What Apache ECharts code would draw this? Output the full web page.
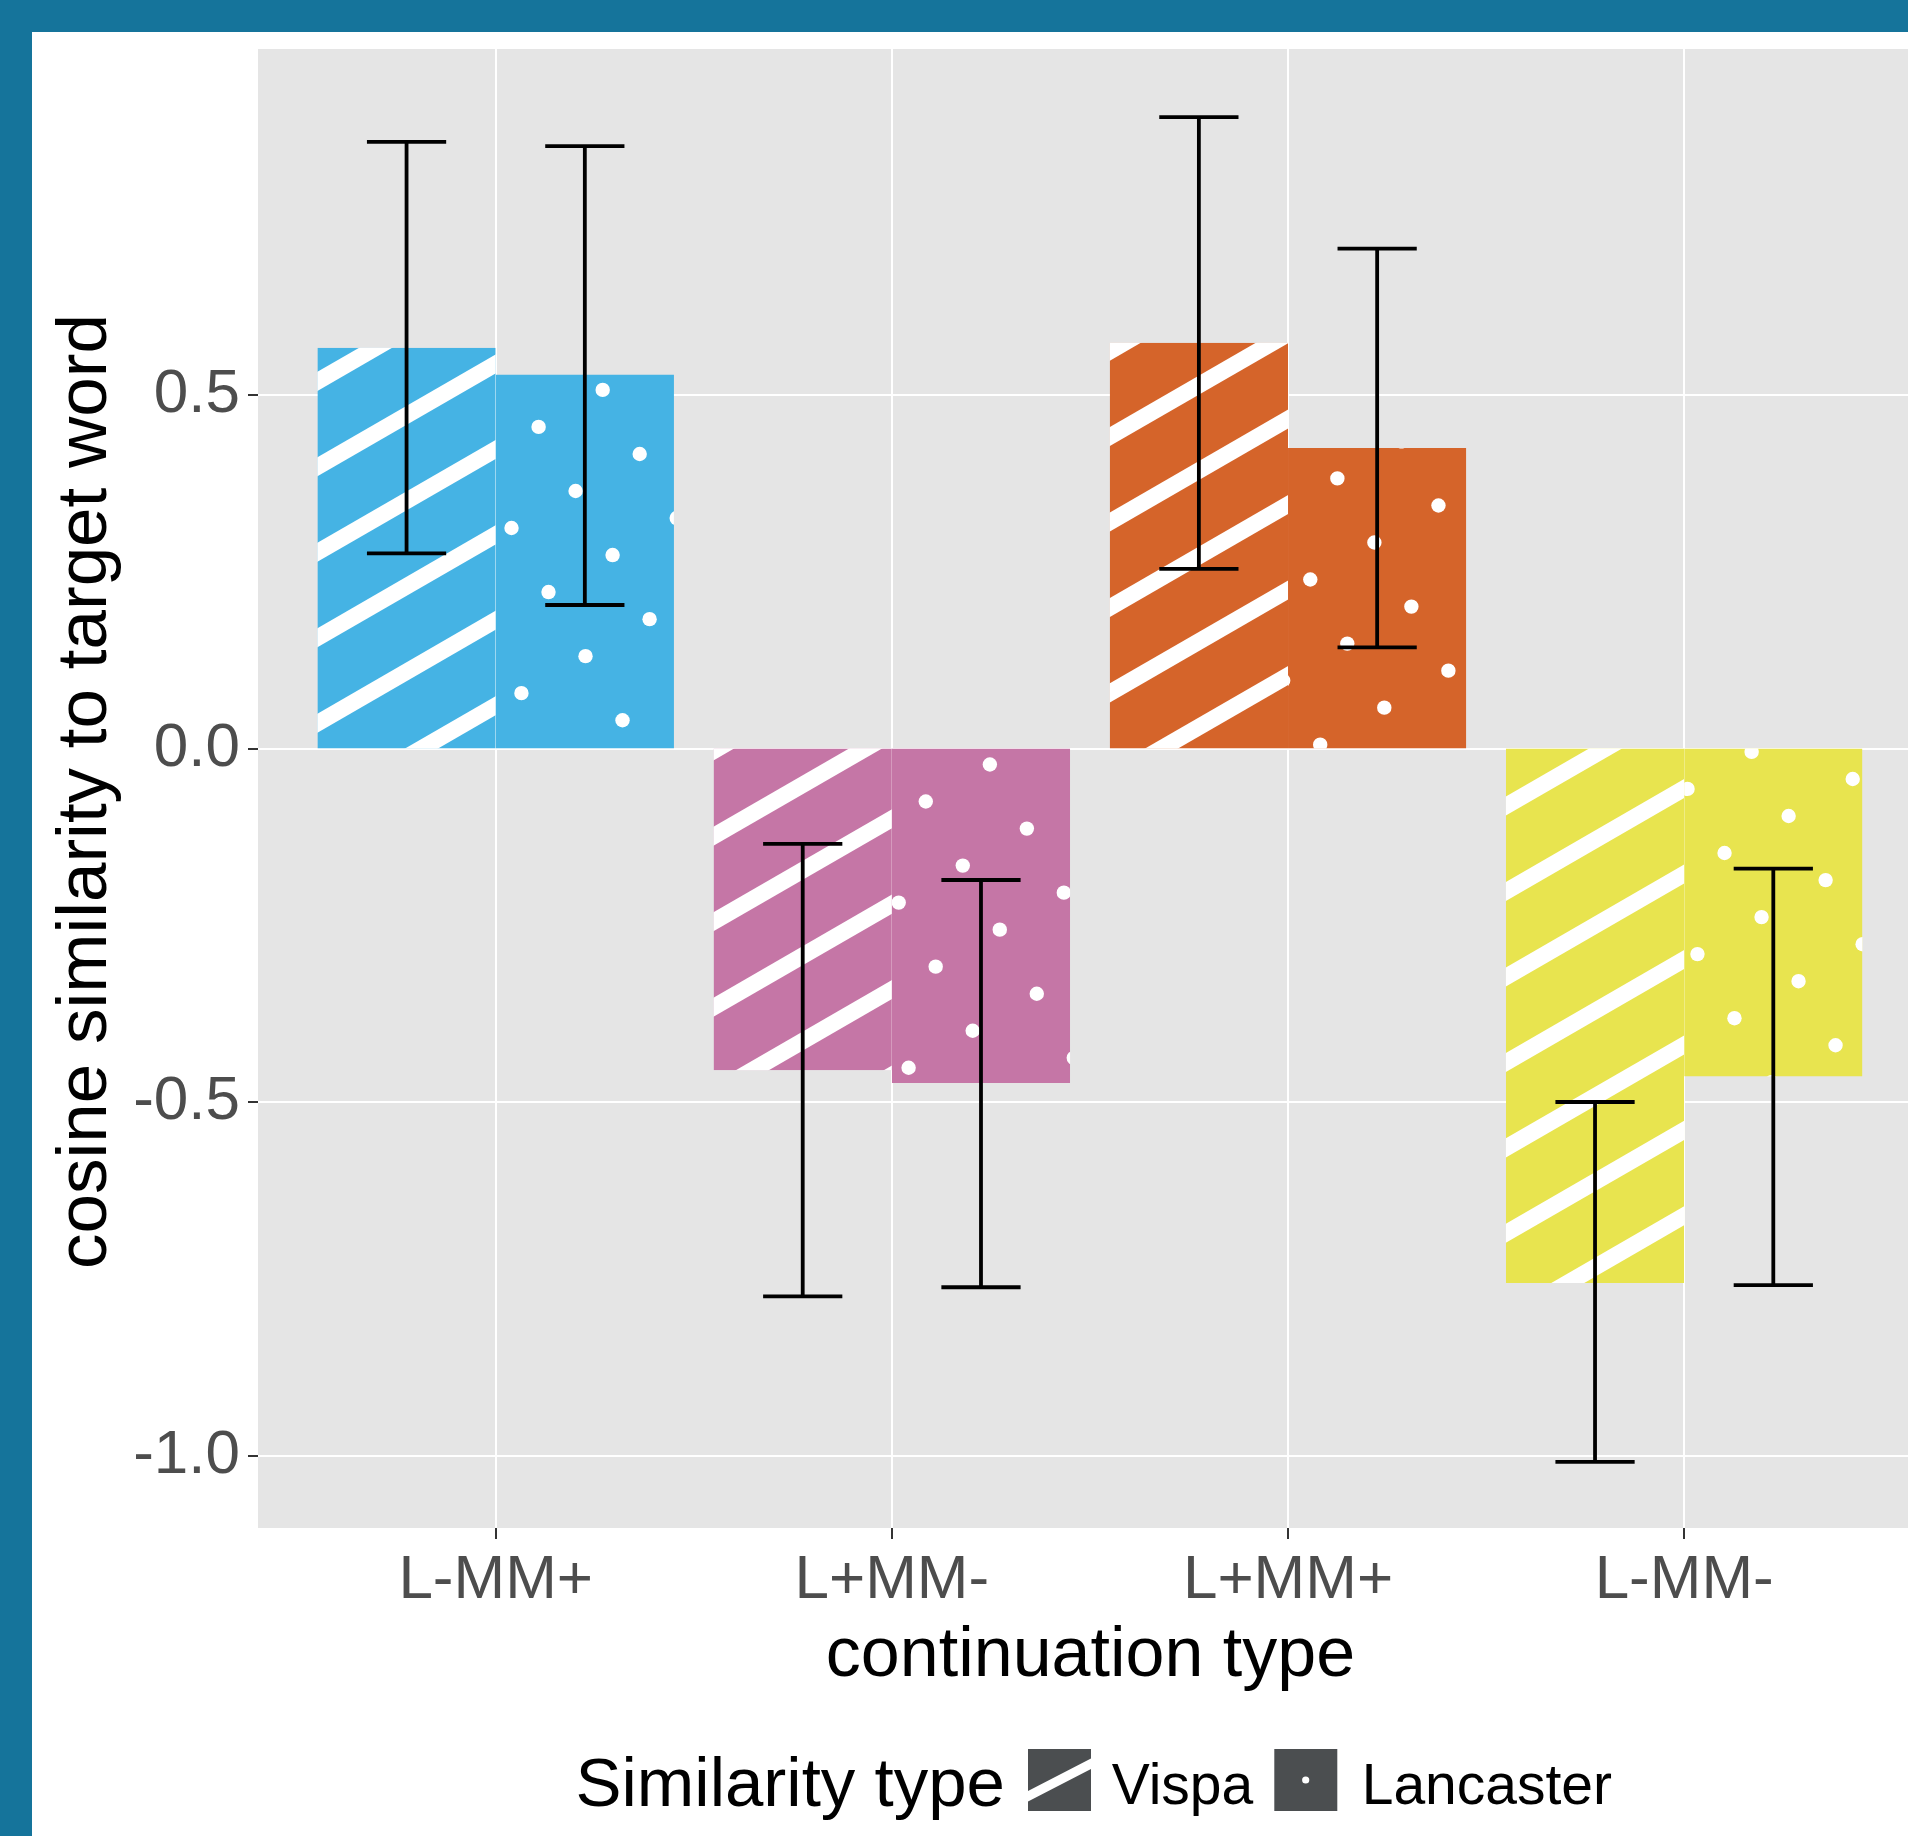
<!DOCTYPE html>
<html>
<head>
<meta charset="utf-8">
<script src="https://cdn.jsdelivr.net/npm/echarts@6/dist/echarts.min.js"></script>
<style>
  html, body { margin: 0; padding: 0; overflow: hidden; background: #15749b; }
  #main { position: absolute; left: 32px; top: 32px; width: 1876px; height: 1804px; background: #fff; }
</style>
</head>
<body>
<div id="main"></div>
<script>
// data
const categories = ["L-MM+", "L+MM-", "L+MM+", "L-MM-"];
const simTypes = ["Vispa", "Lancaster"];
const vispaMean = [0.567, -0.455, 0.574, -0.756];
const vispaLow = [0.276, -0.775, 0.254, -1.009];
const vispaHigh = [0.858, -0.135, 0.893, -0.500];
const lancMean = [0.529, -0.473, 0.425, -0.464];
const lancLow = [0.203, -0.762, 0.143, -0.759];
const lancHigh = [0.852, -0.186, 0.707, -0.170];
const yTicks = [-1.0, -0.5, 0.0, 0.5];
const xTicks = [1, 2, 3, 4];

const barColors = ["#45b3e4", "#c576a6", "#d5642a", "#e8e44f"];
const FONT = "Liberation Sans, Arial, Helvetica, sans-serif";
const PAD = 32; // teal frame, the chart div starts here

// bar / errorbar geometry in axis units
const BAR_W = 0.45;
const ERR_W = 0.2;

// pattern: 30 degree stripes and dots on a rotated lattice
const ANG = Math.PI / 6;
const C = Math.cos(ANG), S = Math.sin(ANG);
const SP = 74;
const STRIPE_W = 16.5;
const DOT_R = 7.2;
const stripeB = 45 - (PAD * S + PAD * C);
const dotA = 31 - (PAD * C - PAD * S);
const dotB = 47 - (PAD * S + PAD * C);

const barData = [];
categories.forEach(function (c, i) {
  barData.push([i + 1, 0, vispaMean[i], vispaLow[i], vispaHigh[i]]);
  barData.push([i + 1, 1, lancMean[i], lancLow[i], lancHigh[i]]);
});

function stripes(r) {
  const out = [];
  const bMin = r.x * S + r.y * C;
  const bMax = (r.x + r.width) * S + (r.y + r.height) * C;
  const sMin = r.x * C - (r.y + r.height) * S - 30;
  const sMax = (r.x + r.width) * C - r.y * S + 30;
  const k0 = Math.floor((bMin - stripeB) / SP) - 1;
  const k1 = Math.ceil((bMax - stripeB) / SP) + 1;
  for (let k = k0; k <= k1; k++) {
    const b = stripeB + k * SP;
    out.push({
      type: "line",
      shape: {
        x1: b * S + sMin * C, y1: b * C - sMin * S,
        x2: b * S + sMax * C, y2: b * C - sMax * S
      },
      style: { stroke: "#fff", lineWidth: STRIPE_W }
    });
  }
  return out;
}

function dots(r) {
  const out = [];
  const aMin = r.x * C - (r.y + r.height) * S;
  const aMax = (r.x + r.width) * C - r.y * S;
  const bMin = r.x * S + r.y * C;
  const bMax = (r.x + r.width) * S + (r.y + r.height) * C;
  for (let i = Math.floor((aMin - dotA) / SP) - 1; i <= Math.ceil((aMax - dotA) / SP) + 1; i++) {
    for (let j = Math.floor((bMin - dotB) / SP) - 1; j <= Math.ceil((bMax - dotB) / SP) + 1; j++) {
      const a = dotA + i * SP, b = dotB + j * SP;
      const px = a * C + b * S, py = -a * S + b * C;
      if (px < r.x - DOT_R || px > r.x + r.width + DOT_R) continue;
      if (py < r.y - DOT_R || py > r.y + r.height + DOT_R) continue;
      out.push({ type: "circle", shape: { cx: px, cy: py, r: DOT_R }, style: { fill: "#fff" } });
    }
  }
  return out;
}

function renderBar(params, api) {
  const cat = api.value(0), kind = api.value(1), mean = api.value(2);
  const left = kind === 0 ? cat - BAR_W : cat;
  const p0 = api.coord([left, 0]);
  const p1 = api.coord([left + BAR_W, mean]);
  const shape = {
    x: p0[0], y: Math.min(p0[1], p1[1]),
    width: p1[0] - p0[0], height: Math.abs(p1[1] - p0[1])
  };
  const kids = [{ type: "rect", shape: shape, style: { fill: barColors[cat - 1] } }];
  const pat = kind === 0 ? stripes(shape) : dots(shape);
  return { type: "group", clipPath: { type: "rect", shape: shape }, children: kids.concat(pat) };
}

function renderErr(params, api) {
  const cat = api.value(0), kind = api.value(1);
  const xc = cat + (kind === 0 ? -BAR_W / 2 : BAR_W / 2);
  const lo = api.coord([xc, api.value(3)]);
  const hi = api.coord([xc, api.value(4)]);
  const hw = api.size([ERR_W / 2, 0])[0];
  const st = { stroke: "#000", lineWidth: 3.8 };
  return {
    type: "group",
    children: [
      { type: "line", shape: { x1: lo[0], y1: lo[1], x2: hi[0], y2: hi[1] }, style: st },
      { type: "line", shape: { x1: lo[0] - hw, y1: lo[1], x2: lo[0] + hw, y2: lo[1] }, style: st },
      { type: "line", shape: { x1: hi[0] - hw, y1: hi[1], x2: hi[0] + hw, y2: hi[1] }, style: st }
    ]
  };
}

const chart = echarts.init(document.getElementById("main"));
const option = {
  animation: false,
  backgroundColor: "#fff",
  grid: {
    left: 258 - PAD, top: 49 - PAD, right: 0, bottom: 308,
    show: true, backgroundColor: "#e5e5e5", borderWidth: 0,
    containLabel: false, outerBoundsMode: "none"
  },
  xAxis: {
    type: "value", min: 0.4, max: 4.565,
    axisLine: { show: false, onZero: false },
    axisTick: { show: true, customValues: xTicks, length: 11, lineStyle: { color: "#333", width: 2 } },
    axisLabel: {
      customValues: xTicks, margin: 22,
      formatter: function (v) { return categories[Math.round(v) - 1] || ""; },
      fontFamily: FONT, fontSize: 62, lineHeight: 62, color: "#4d4d4d"
    },
    splitLine: { show: true, lineStyle: { color: "#fff", width: 2 } }
  },
  yAxis: {
    type: "value", min: -1.1025, max: 0.9894,
    axisLine: { show: false, onZero: false },
    axisTick: { show: true, customValues: yTicks, length: 10, lineStyle: { color: "#333", width: 2 } },
    axisLabel: {
      customValues: yTicks, margin: 18,
      formatter: function (v) { return v.toFixed(1); },
      fontFamily: FONT, fontSize: 62, color: "#4d4d4d"
    },
    splitLine: { show: true, lineStyle: { color: "#fff", width: 2 } }
  },
  series: [
    {
      type: "custom", name: "bars", renderItem: renderBar, data: barData,
      encode: { x: 0, y: 2 }, silent: true, z: 3
    },
    {
      type: "custom", name: "errors", renderItem: renderErr, data: barData,
      encode: { x: 0, y: [3, 4] }, silent: true, z: 4
    }
  ],
  graphic: [
    {
      type: "text", x: 86 - PAD, y: 791.5 - PAD, rotation: Math.PI / 2,
      style: { text: "cosine similarity to target word", font: "71px " + FONT, fill: "#000", align: "center", verticalAlign: "middle" }
    },
    {
      type: "text", x: 1090.5 - PAD, y: 1657 - PAD,
      style: { text: "continuation type", font: "70px " + FONT, fill: "#000", align: "center", verticalAlign: "middle" }
    },
    {
      type: "text", x: 575.5 - PAD, y: 1787 - PAD,
      style: { text: "Similarity type", font: "69px " + FONT, fill: "#000", align: "left", verticalAlign: "middle" }
    },
    { type: "rect", shape: { x: 1028 - PAD, y: 1749 - PAD, width: 63, height: 62 }, style: { fill: "#4b4e50" } },
    {
      type: "polygon",
      shape: { points: [[1028 - PAD, 1791 - PAD], [1091 - PAD, 1758.5 - PAD], [1091 - PAD, 1769 - PAD], [1028 - PAD, 1801.5 - PAD]] },
      style: { fill: "#fff" }
    },
    {
      type: "text", x: 1111.7 - PAD, y: 1788.5 - PAD,
      style: { text: simTypes[0], font: "57px " + FONT, fill: "#000", align: "left", verticalAlign: "middle" }
    },
    { type: "rect", shape: { x: 1274.3 - PAD, y: 1749 - PAD, width: 63, height: 62 }, style: { fill: "#4b4e50" } },
    { type: "circle", shape: { cx: 1305.7 - PAD, cy: 1780 - PAD, r: 3.6 }, style: { fill: "#fff" } },
    {
      type: "text", x: 1361.7 - PAD, y: 1788.5 - PAD,
      style: { text: simTypes[1], font: "57px " + FONT, fill: "#000", align: "left", verticalAlign: "middle" }
    }
  ]
};
chart.setOption(option);
</script>
</body>
</html>
